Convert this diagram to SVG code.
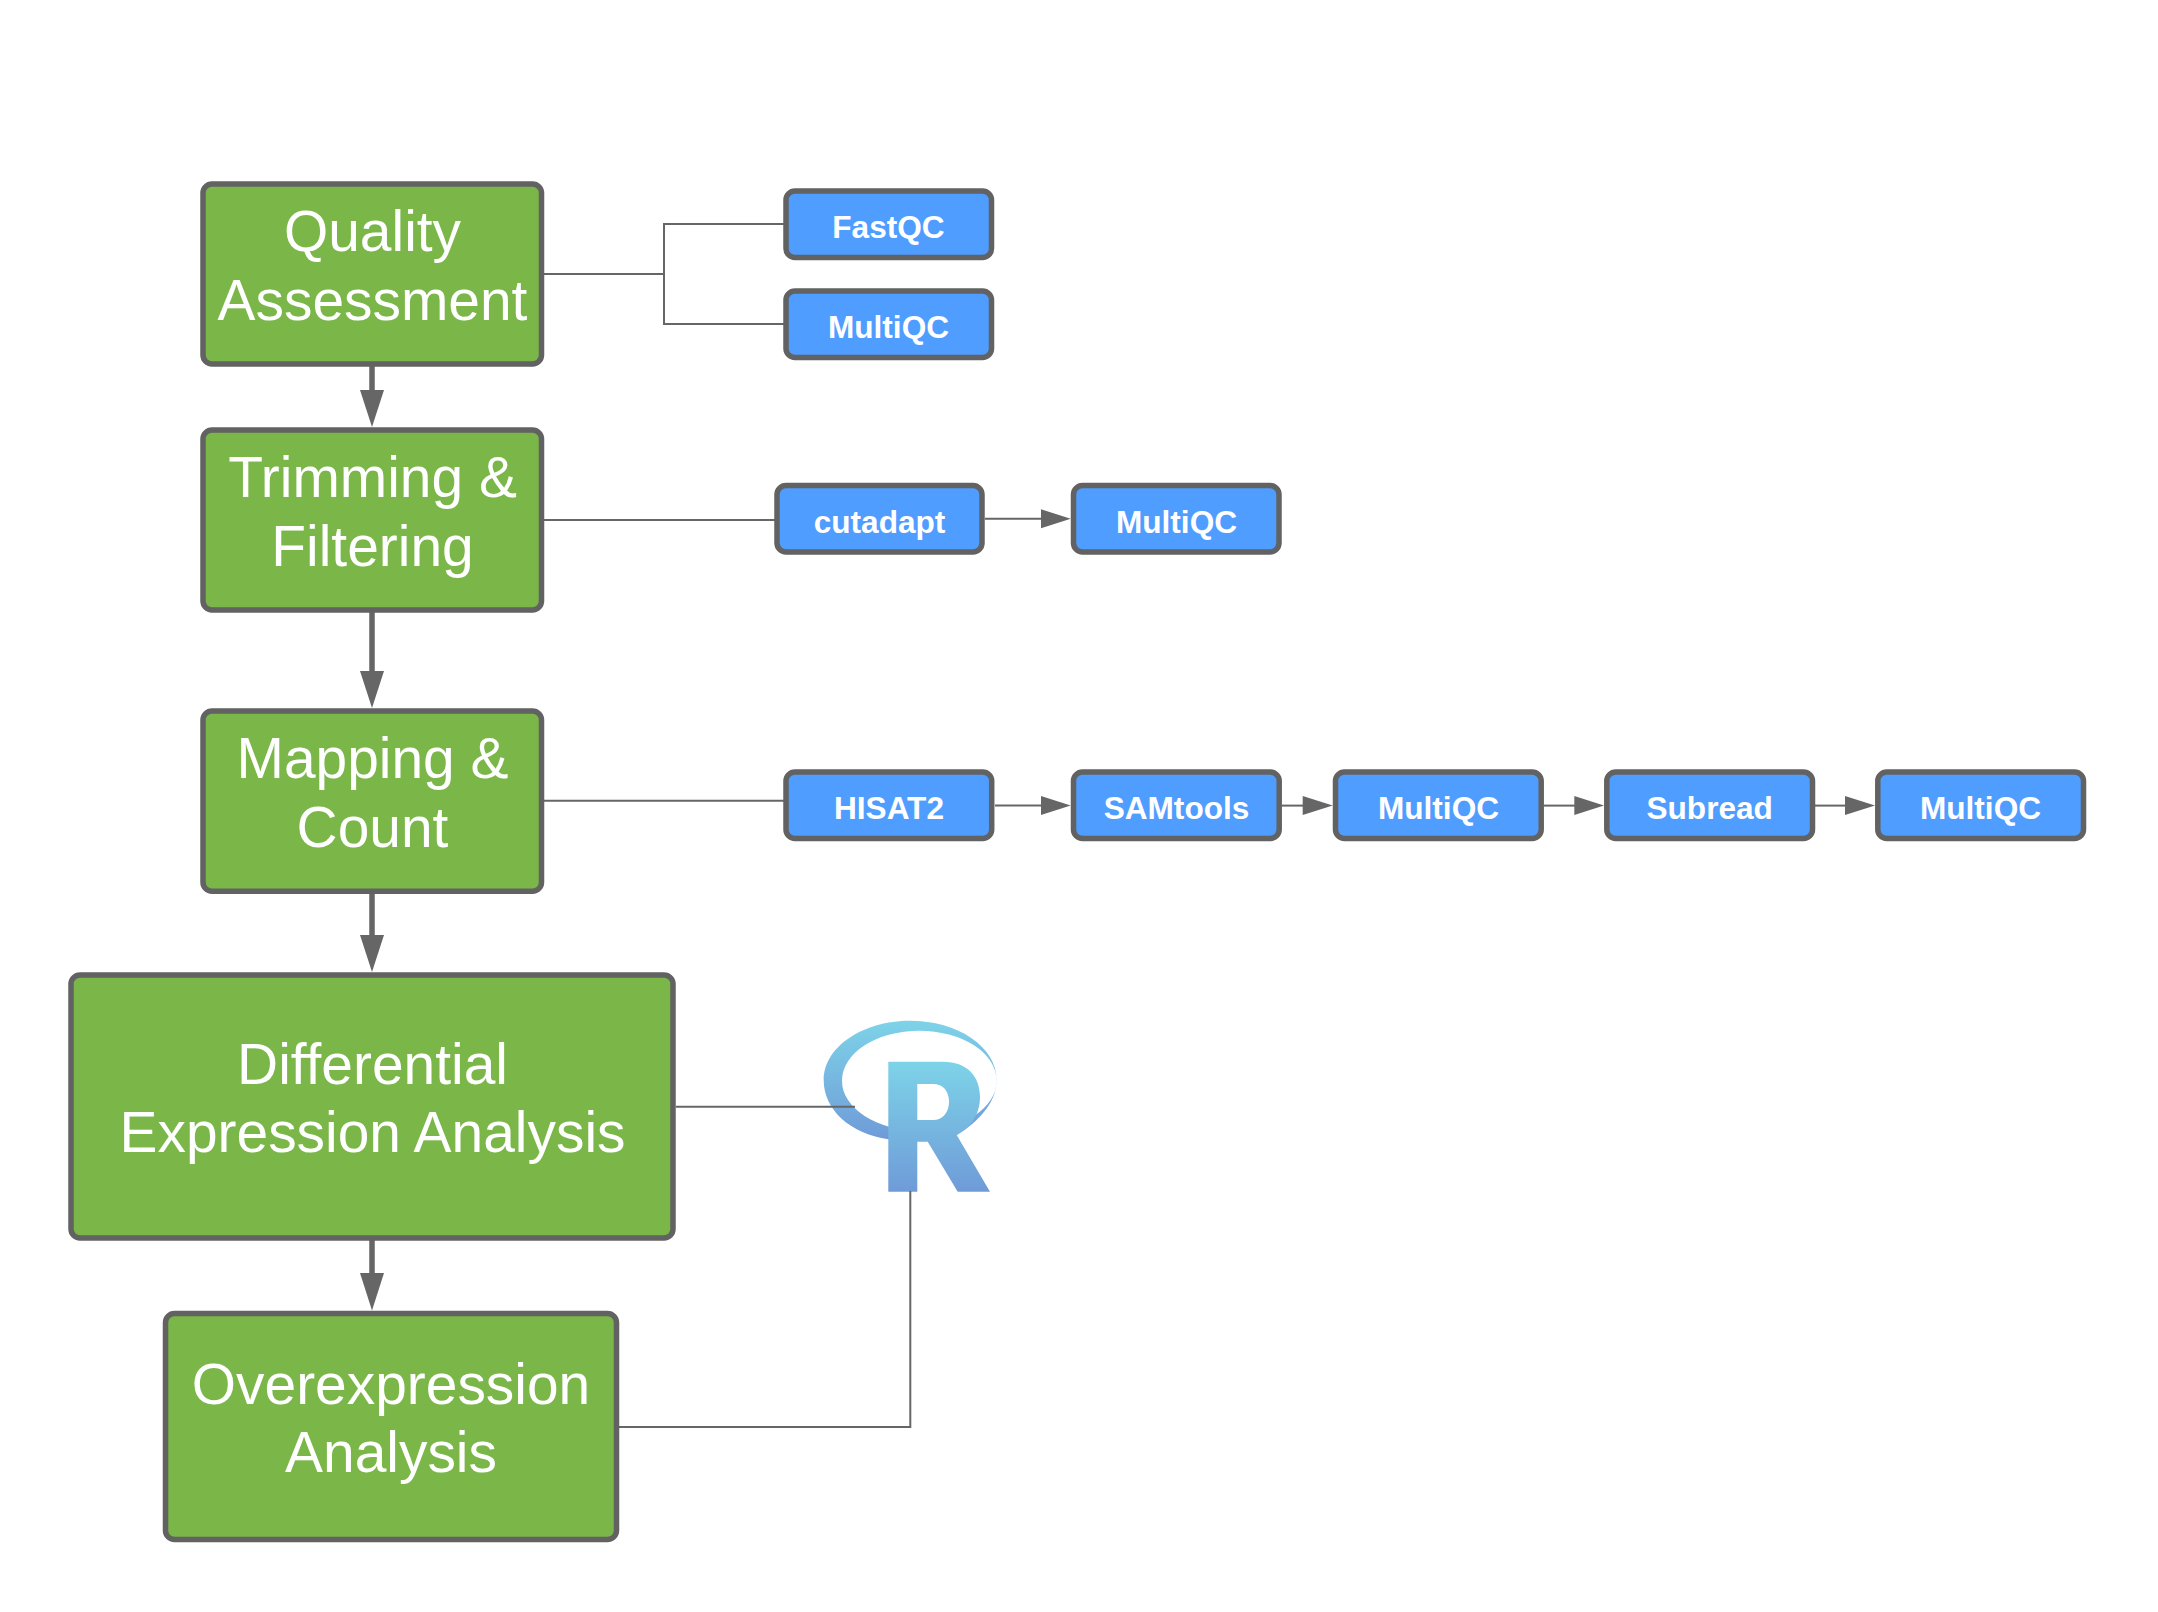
<svg xmlns="http://www.w3.org/2000/svg" width="2158" height="1612" viewBox="0 0 2158 1612">
<style>
.step rect{fill:#7ab648;stroke:#626262;stroke-width:5.5}
.tool rect{fill:#4f9dff;stroke:#626262;stroke-width:5.5}
.step text{font:56.9px "Liberation Sans",Arial,sans-serif;fill:#fff;text-anchor:middle}
.tool text{font:bold 31.6px "Liberation Sans",Arial,sans-serif;fill:#fff;text-anchor:middle}
.thin{fill:none;stroke:#666;stroke-width:2}
.thick{fill:none;stroke:#666;stroke-width:5.5}
.head{fill:#666}
</style>
<defs>
<linearGradient id="rg" x1="0" y1="0" x2="0" y2="1"><stop offset="0" stop-color="#7dd3e8"/><stop offset="1" stop-color="#6f9bd8"/></linearGradient>
</defs>
<rect width="2158" height="1612" fill="#fff"/>
<g id="r-logo">
<path fill="url(#rg)" fill-rule="evenodd" d="M823.7 1080C823.7 1046.7 863.3 1020.7 910 1020.7C957.7 1020.7 996.7 1046.7 996.7 1080C996.7 1103.3 976.7 1123.3 956.7 1135L888.3 1139.3C850 1133.3 823.7 1110 823.7 1080ZM842 1080.7A77.3 50 0 1 0 996.6 1080.7A77.3 50 0 1 0 842 1080.7Z"/>
<path fill="url(#rg)" fill-rule="evenodd" d="M888.3 1061.7H943C967 1061.7 980 1076 980 1097C980 1115 970 1128 956.7 1135L990 1191.7H957.7L927.7 1141.7H917.3V1191.7H888.3ZM917.3 1084V1120H933C943 1120 949 1112 949 1101.7C949 1091 943 1084 933 1084Z"/>
</g>
<g id="connectors">
<path class="thick" d="M372 366V392M372 612V673M372 894V937M372 1240V1275"/>
<polygon class="head" points="360,390 384,390 372,427"/>
<polygon class="head" points="360,671 384,671 372,708"/>
<polygon class="head" points="360,935 384,935 372,972"/>
<polygon class="head" points="360,1273 384,1273 372,1310.5"/>
<path class="thin" d="M544 274H664V224H784M664 274V324H784"/>
<path class="thin" d="M544 520H775"/>
<path class="thin" d="M985 518.8H1043"/><polygon class="head" points="1041,509.3 1070.7,518.8 1041,528.3"/>
<path class="thin" d="M544 800.7H785"/>
<path class="thin" d="M995 805.6H1043"/><polygon class="head" points="1041,796 1070.7,805.6 1041,815"/>
<path class="thin" d="M1282 805.6H1305"/><polygon class="head" points="1302.7,796 1332.7,805.6 1302.7,815"/>
<path class="thin" d="M1544 805.6H1576"/><polygon class="head" points="1574.3,796 1604,805.6 1574.3,815"/>
<path class="thin" d="M1815 805.6H1847"/><polygon class="head" points="1845,796 1875,805.6 1845,815"/>
<path class="thin" d="M676 1106.7H855"/>
<path class="thin" d="M619 1427H910.3V1191"/>
</g>
<g id="quality" class="step"><rect x="203" y="184" width="338.5" height="180" rx="9"/><text x="372.5" y="250.9">Quality</text><text x="372.5" y="319.7">Assessment</text></g>
<g id="trimming" class="step"><rect x="203" y="430" width="338.5" height="180" rx="9"/><text x="372.5" y="497">Trimming &amp;</text><text x="372.5" y="565.5">Filtering</text></g>
<g id="mapping" class="step"><rect x="203" y="711" width="338.5" height="180.3" rx="9"/><text x="372.5" y="778">Mapping &amp;</text><text x="372.5" y="846.5">Count</text></g>
<g id="differential" class="step"><rect x="71" y="975" width="602" height="263" rx="9"/><text x="372.5" y="1083.5">Differential</text><text x="372.5" y="1151.7">Expression Analysis</text></g>
<g id="overexpression" class="step"><rect x="165.5" y="1313.5" width="451" height="226" rx="9"/><text x="391" y="1403.5">Overexpression</text><text x="391" y="1472">Analysis</text></g>
<g id="fastqc" class="tool"><rect x="786" y="191" width="205.5" height="66.5" rx="9"/><text x="888.5" y="238">FastQC</text></g>
<g id="multiqc1" class="tool"><rect x="786" y="291" width="205.5" height="66.5" rx="9"/><text x="888.5" y="338">MultiQC</text></g>
<g id="cutadapt" class="tool"><rect x="777" y="485.5" width="205" height="66.5" rx="9"/><text x="879.5" y="532.7">cutadapt</text></g>
<g id="multiqc2" class="tool"><rect x="1073.5" y="485.5" width="205.5" height="66.5" rx="9"/><text x="1176.5" y="532.7">MultiQC</text></g>
<g id="hisat2" class="tool"><rect x="786" y="772" width="205.7" height="66.5" rx="9"/><text x="889" y="819">HISAT2</text></g>
<g id="samtools" class="tool"><rect x="1073.5" y="772" width="205.7" height="66.5" rx="9"/><text x="1176.5" y="819">SAMtools</text></g>
<g id="multiqc3" class="tool"><rect x="1335.5" y="772" width="205.7" height="66.5" rx="9"/><text x="1438.5" y="819">MultiQC</text></g>
<g id="subread" class="tool"><rect x="1606.8" y="772" width="205.7" height="66.5" rx="9"/><text x="1709.7" y="819">Subread</text></g>
<g id="multiqc4" class="tool"><rect x="1877.8" y="772" width="205.7" height="66.5" rx="9"/><text x="1980.5" y="819">MultiQC</text></g>
</svg>
